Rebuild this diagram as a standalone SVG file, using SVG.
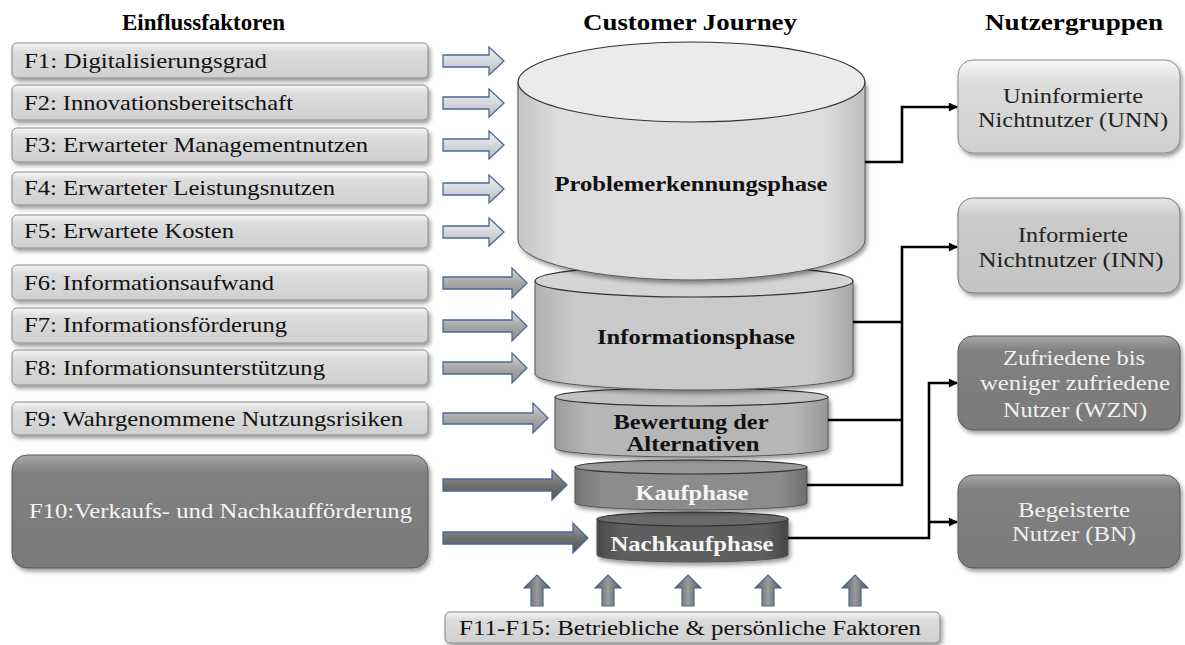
<svg xmlns="http://www.w3.org/2000/svg" width="1185" height="645" viewBox="0 0 1185 645">
<defs>
<style>
text{font-family:"Liberation Serif",serif}
.hdr{font-weight:bold;font-size:23px;fill:#000}
.lt{font-size:21px;fill:#111}
.wt{font-size:21px;fill:#f4f4f4}
.ph{font-weight:bold;font-size:21px;fill:#111;text-anchor:middle}
.phw{font-weight:bold;font-size:21px;fill:#f6f6f6;text-anchor:middle}
.rt{font-size:21px;fill:#222;text-anchor:middle}
.rtw{font-size:21px;fill:#f0f0f0;text-anchor:middle}
.boxL{fill:url(#gLight);stroke:#8a8a8a;stroke-width:1;filter:url(#sh)}
.boxD{fill:url(#gDark);stroke:#5a5a5a;stroke-width:1;filter:url(#sh)}
.boxM{fill:url(#gMid);stroke:#777;stroke-width:1;filter:url(#sh)}
.arL{fill:url(#gArL);stroke:#4a6898;stroke-width:1.3}
.arM{fill:url(#gArM);stroke:#4a6898;stroke-width:1.3}
.arD{fill:url(#gArD);stroke:#4a6898;stroke-width:1.3}
.arU{fill:url(#gArU);stroke:#4a6898;stroke-width:1.2}
.con{fill:none;stroke:#000;stroke-width:2.6}
.cyl{stroke:#555;stroke-width:1;filter:url(#sh)}
.rim{stroke:#333;stroke-width:1.2}
</style>
<filter id="sh" x="-10%" y="-10%" width="125%" height="135%">
<feDropShadow dx="2" dy="3" stdDeviation="2" flood-color="#000" flood-opacity="0.4"/>
</filter>
<linearGradient id="gLight" x1="0" y1="0" x2="0" y2="1">
<stop offset="0" stop-color="#f7f7f7"/><stop offset="0.25" stop-color="#dcdcdc"/><stop offset="1" stop-color="#d0d0d0"/>
</linearGradient>
<linearGradient id="gMid" x1="0" y1="0" x2="0" y2="1">
<stop offset="0" stop-color="#e6e6e6"/><stop offset="0.2" stop-color="#cacaca"/><stop offset="1" stop-color="#c4c4c4"/>
</linearGradient>
<linearGradient id="gDark" x1="0" y1="0" x2="0" y2="1">
<stop offset="0" stop-color="#a8a8a8"/><stop offset="0.15" stop-color="#818181"/><stop offset="1" stop-color="#7a7a7a"/>
</linearGradient>
<linearGradient id="gArL" x1="0" y1="0" x2="0" y2="1">
<stop offset="0" stop-color="#f4f6f8"/><stop offset="0.5" stop-color="#d4d8dc"/><stop offset="1" stop-color="#b8bcc0"/>
</linearGradient>
<linearGradient id="gArM" x1="0" y1="0" x2="0" y2="1">
<stop offset="0" stop-color="#d8d8d8"/><stop offset="0.5" stop-color="#a8a8a8"/><stop offset="1" stop-color="#8c8c8c"/>
</linearGradient>
<linearGradient id="gArD" x1="0" y1="0" x2="0" y2="1">
<stop offset="0" stop-color="#a0a0a0"/><stop offset="0.5" stop-color="#707070"/><stop offset="1" stop-color="#555"/>
</linearGradient>
<linearGradient id="gArU" x1="0" y1="0" x2="1" y2="0">
<stop offset="0" stop-color="#555"/><stop offset="0.5" stop-color="#9a9a9a"/><stop offset="1" stop-color="#555"/>
</linearGradient>
<linearGradient id="c1" x1="0" y1="0" x2="1" y2="0">
<stop offset="0" stop-color="#c4c4c4"/><stop offset="0.12" stop-color="#dedede"/><stop offset="0.88" stop-color="#dedede"/><stop offset="1" stop-color="#bdbdbd"/>
</linearGradient>
<linearGradient id="c2" x1="0" y1="0" x2="1" y2="0">
<stop offset="0" stop-color="#b0b0b0"/><stop offset="0.12" stop-color="#c9c9c9"/><stop offset="0.88" stop-color="#c9c9c9"/><stop offset="1" stop-color="#a8a8a8"/>
</linearGradient>
<linearGradient id="c3" x1="0" y1="0" x2="1" y2="0">
<stop offset="0" stop-color="#9c9c9c"/><stop offset="0.12" stop-color="#b6b6b6"/><stop offset="0.88" stop-color="#b6b6b6"/><stop offset="1" stop-color="#969696"/>
</linearGradient>
<linearGradient id="c4" x1="0" y1="0" x2="1" y2="0">
<stop offset="0" stop-color="#747474"/><stop offset="0.12" stop-color="#8c8c8c"/><stop offset="0.88" stop-color="#8c8c8c"/><stop offset="1" stop-color="#6e6e6e"/>
</linearGradient>
<linearGradient id="c5" x1="0" y1="0" x2="1" y2="0">
<stop offset="0" stop-color="#4a4a4a"/><stop offset="0.12" stop-color="#5e5e5e"/><stop offset="0.88" stop-color="#5e5e5e"/><stop offset="1" stop-color="#454545"/>
</linearGradient>
<marker id="ah" viewBox="0 0 10 10" refX="9" refY="5" markerWidth="10" markerHeight="9" markerUnits="userSpaceOnUse" orient="auto">
<path d="M0,0 L10,5 L0,10 Z" fill="#000"/>
</marker>
</defs>

<rect width="1185" height="645" fill="#fff"/>

<!-- headers -->
<text class="hdr" x="122" y="30" textLength="163" lengthAdjust="spacingAndGlyphs">Einflussfaktoren</text>
<text class="hdr" x="583" y="30" textLength="214" lengthAdjust="spacingAndGlyphs">Customer Journey</text>
<text class="hdr" x="985" y="30" textLength="178" lengthAdjust="spacingAndGlyphs">Nutzergruppen</text>

<!-- left factor nodes -->
<g id="F1"><rect class="boxL" x="12" y="43" width="416" height="35" rx="5"/><text class="lt" x="24" y="68" textLength="243" lengthAdjust="spacingAndGlyphs">F1: Digitalisierungsgrad</text></g>
<g id="F2"><rect class="boxL" x="12" y="85" width="416" height="35" rx="5"/><text class="lt" x="24" y="110" textLength="269" lengthAdjust="spacingAndGlyphs">F2: Innovationsbereitschaft</text></g>
<g id="F3"><rect class="boxL" x="12" y="128" width="416" height="34" rx="5"/><text class="lt" x="24" y="152" textLength="344" lengthAdjust="spacingAndGlyphs">F3: Erwarteter Managementnutzen</text></g>
<g id="F4"><rect class="boxL" x="12" y="172" width="416" height="33" rx="5"/><text class="lt" x="24" y="195" textLength="311" lengthAdjust="spacingAndGlyphs">F4: Erwarteter Leistungsnutzen</text></g>
<g id="F5"><rect class="boxL" x="12" y="215" width="416" height="33" rx="5"/><text class="lt" x="24" y="238" textLength="210" lengthAdjust="spacingAndGlyphs">F5: Erwartete Kosten</text></g>
<g id="F6"><rect class="boxL" x="12" y="265" width="416" height="35" rx="5"/><text class="lt" x="24" y="290" textLength="250" lengthAdjust="spacingAndGlyphs">F6: Informationsaufwand</text></g>
<g id="F7"><rect class="boxL" x="12" y="308" width="416" height="35" rx="5"/><text class="lt" x="24" y="332" textLength="263" lengthAdjust="spacingAndGlyphs">F7: Informationsförderung</text></g>
<g id="F8"><rect class="boxL" x="12" y="350" width="416" height="35" rx="5"/><text class="lt" x="24" y="375" textLength="301" lengthAdjust="spacingAndGlyphs">F8: Informationsunterstützung</text></g>
<g id="F9"><rect class="boxL" x="12" y="402" width="416" height="33" rx="5"/><text class="lt" x="24" y="426" textLength="379" lengthAdjust="spacingAndGlyphs">F9: Wahrgenommene Nutzungsrisiken</text></g>
<g id="F10"><rect class="boxD" x="12" y="455" width="416" height="113" rx="15"/><text class="wt" x="29" y="518" textLength="383" lengthAdjust="spacingAndGlyphs">F10:Verkaufs- und Nachkaufförderung</text></g>

<!-- factor arrows -->
<g id="factor-arrows">
<path class="arL" d="M443,55 H489 V47 L504,61 L489,75 V67 H443 Z"/>
<path class="arL" d="M443,97 H489 V89 L504,103 L489,117 V109 H443 Z"/>
<path class="arL" d="M443,139 H489 V131 L504,145 L489,159 V151 H443 Z"/>
<path class="arL" d="M443,183 H489 V175 L504,189 L489,203 V195 H443 Z"/>
<path class="arL" d="M443,226 H489 V218 L504,232 L489,246 V238 H443 Z"/>
<path class="arM" d="M443,277 H512 V268 L527,283 L512,298 V289 H443 Z"/>
<path class="arM" d="M443,320 H512 V311 L527,326 L512,341 V332 H443 Z"/>
<path class="arM" d="M443,362 H512 V353 L527,368 L512,383 V374 H443 Z"/>
<path class="arM" d="M443,413 H533 V403 L548,418 L533,433 V424 H443 Z"/>
<path class="arD" d="M443,479 H552 V470 L567,485 L552,500 V491 H443 Z"/>
<path class="arD" d="M443,532 H573 V523 L588,538 L573,553 V544 H443 Z"/>
</g>

<!-- customer journey cylinders (drawn bottom-up) -->
<g id="Nachkaufphase">
<path class="cyl" fill="url(#c5)" d="M597,519 V555 A95.5,7 0 0 0 788,555 V519 Z"/>
<ellipse class="rim" cx="692.5" cy="519" rx="95.5" ry="7" fill="#6a6a6a"/>
<text class="phw" x="692" y="551" textLength="163" lengthAdjust="spacingAndGlyphs">Nachkaufphase</text>
</g>
<g id="Kaufphase">
<path class="cyl" fill="url(#c4)" d="M575,467 V503 A116,7 0 0 0 807,503 V467 Z"/>
<ellipse class="rim" cx="691" cy="467" rx="116" ry="7" fill="#9a9a9a"/>
<text class="phw" x="692" y="500" textLength="113" lengthAdjust="spacingAndGlyphs">Kaufphase</text>
</g>
<g id="Bewertung">
<path class="cyl" fill="url(#c3)" d="M555,397 V448 A136.5,9 0 0 0 828,448 V397 Z"/>
<ellipse class="rim" cx="691.5" cy="397" rx="136.5" ry="9" fill="#c2c2c2"/>
<text class="ph" x="691" y="429" textLength="155" lengthAdjust="spacingAndGlyphs">Bewertung der</text>
<text class="ph" x="693" y="451" textLength="133" lengthAdjust="spacingAndGlyphs">Alternativen</text>
</g>
<g id="Informationsphase">
<path class="cyl" fill="url(#c2)" d="M535,281 V374 A159,16 0 0 0 853,374 V281 Z"/>
<ellipse class="rim" cx="694" cy="281" rx="159" ry="16" fill="#d4d4d4"/>
<text class="ph" x="696" y="344" textLength="198" lengthAdjust="spacingAndGlyphs">Informationsphase</text>
</g>
<g id="Problemerkennungsphase">
<path class="cyl" fill="url(#c1)" d="M518,82 V240 A173.5,40 0 0 0 865,240 V82 Z"/>
<ellipse class="rim" cx="691.5" cy="82" rx="173.5" ry="40" fill="#ebebeb"/>
<text class="ph" x="691" y="191" textLength="273" lengthAdjust="spacingAndGlyphs">Problemerkennungsphase</text>
</g>

<!-- user group nodes -->
<g id="UNN"><rect class="boxL" x="958" y="60" width="222" height="93" rx="15"/>
<text class="rt" x="1073" y="103" textLength="140" lengthAdjust="spacingAndGlyphs">Uninformierte</text>
<text class="rt" x="1073" y="127" textLength="190" lengthAdjust="spacingAndGlyphs">Nichtnutzer (UNN)</text></g>
<g id="INN"><rect class="boxM" x="958" y="198" width="222" height="95" rx="15"/>
<text class="rt" x="1073" y="242" textLength="110" lengthAdjust="spacingAndGlyphs">Informierte</text>
<text class="rt" x="1071" y="267" textLength="185" lengthAdjust="spacingAndGlyphs">Nichtnutzer (INN)</text></g>
<g id="WZN"><rect class="boxD" x="958" y="336" width="222" height="94" rx="15"/>
<text class="rtw" x="1074" y="365" textLength="142" lengthAdjust="spacingAndGlyphs">Zufriedene bis</text>
<text class="rtw" x="1075" y="390" textLength="190" lengthAdjust="spacingAndGlyphs">weniger zufriedene</text>
<text class="rtw" x="1075" y="417" textLength="144" lengthAdjust="spacingAndGlyphs">Nutzer (WZN)</text></g>
<g id="BN"><rect class="boxD" x="958" y="475" width="222" height="93" rx="15"/>
<text class="rtw" x="1074" y="517" textLength="112" lengthAdjust="spacingAndGlyphs">Begeisterte</text>
<text class="rtw" x="1074" y="541" textLength="124" lengthAdjust="spacingAndGlyphs">Nutzer (BN)</text></g>

<!-- connectors -->
<g id="connectors">
<path class="con" d="M865,162 H902 V107 H957" marker-end="url(#ah)"/>
<path class="con" d="M853,322 H902"/>
<path class="con" d="M828,420 H902"/>
<path class="con" d="M807,485 H902 V247 H957" marker-end="url(#ah)"/>
<path class="con" d="M788,538 H929 V383 H957" marker-end="url(#ah)"/>
<path class="con" d="M929,522 H957" marker-end="url(#ah)"/>
</g>

<!-- bottom factors -->
<g id="F11-F15">
<rect class="boxL" x="445" y="612" width="495" height="31" rx="5"/>
<text class="lt" x="459" y="635" textLength="462" lengthAdjust="spacingAndGlyphs">F11-F15: Betriebliche &amp; persönliche Faktoren</text>
</g>
<g id="up-arrows">
<path class="arU" d="M537,575 L550,588 H543 V606 H531 V588 H524 Z"/>
<path class="arU" d="M608,575 L621,588 H614 V606 H602 V588 H595 Z"/>
<path class="arU" d="M688,575 L701,588 H694 V606 H682 V588 H675 Z"/>
<path class="arU" d="M768,575 L781,588 H774 V606 H762 V588 H755 Z"/>
<path class="arU" d="M855,575 L868,588 H861 V606 H849 V588 H842 Z"/>
</g>
</svg>
